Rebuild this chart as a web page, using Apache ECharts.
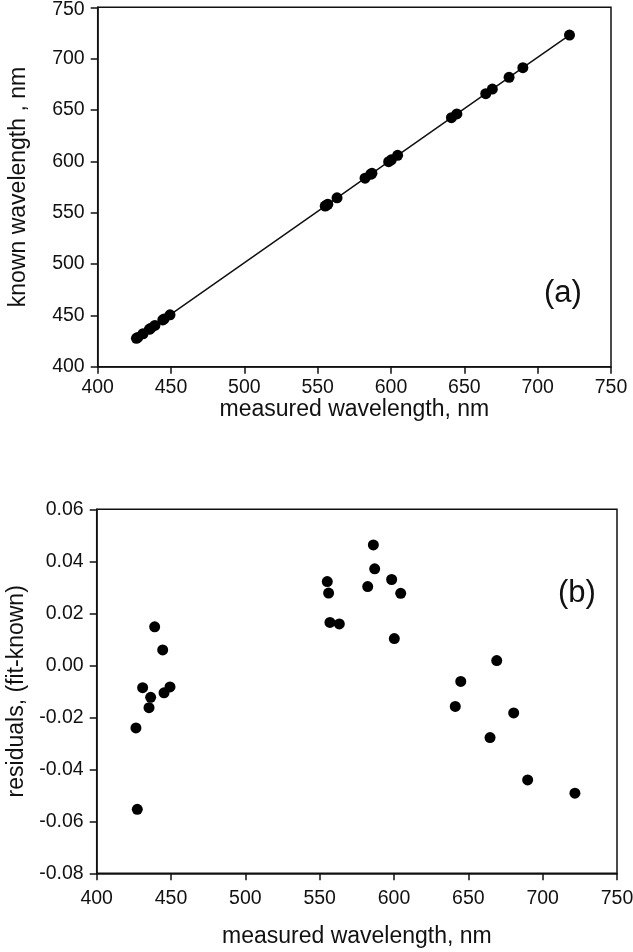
<!DOCTYPE html>
<html>
<head>
<meta charset="utf-8">
<script src="https://cdn.jsdelivr.net/npm/echarts@6/dist/echarts.min.js"></script>
<style>
html,body{margin:0;padding:0;background:#fff;}
#c{width:633px;height:952px;}
</style>
</head>
<body>
<div id="c"></div>
<script>
// measured wavelengths (nm)
var measured = [426.4, 427.3, 430.9, 435.2, 436.3, 439.0, 444.4, 445.3, 449.3,
  555.1, 556.0, 556.9, 563.2, 582.3, 586.1, 587.0, 598.4, 600.2, 604.5,
  641.2, 644.9, 664.6, 669.1, 680.5, 689.9, 721.7];
// known wavelengths (nm)
var known = [427.6, 428.5, 432.1, 436.4, 437.5, 440.2, 445.6, 446.5, 450.5,
  556.4, 557.3, 558.2, 564.5, 583.6, 587.4, 588.3, 599.7, 601.5, 605.8,
  642.5, 646.2, 665.9, 670.4, 681.8, 691.2, 723.0];
// residuals (fit - known)
var residuals = [-0.0241, -0.0554, -0.0086, -0.0163, -0.0123, 0.0148, 0.0059, -0.0106, -0.0083,
  0.0322, 0.0278, 0.0165, 0.0159, 0.0303, 0.0463, 0.0371, 0.0330, 0.0103, 0.0277,
  -0.0158, -0.0062, -0.0278, 0.0018, -0.0183, -0.0441, -0.0492];
var panelLabels = ['(a)', '(b)'];
var xTitle = 'measured wavelength, nm';
var yTitleTop = 'known wavelength , nm';
var yTitleBottom = 'residuals, (fit-known)';

var topPts = measured.map(function (m, i) { return [m, known[i]]; });
var fitPts = topPts.slice().sort(function (a, b) { return a[0] - b[0]; });
var resPts = measured.map(function (m, i) { return [m, residuals[i]]; });

var FONT = 'Liberation Sans, Arial, sans-serif';
var ink = '#111';

function xAx(gi, margin, gap) {
  return {
    type: 'value', gridIndex: gi, min: 400, max: 750, interval: 50,
    name: xTitle, nameLocation: 'middle', nameGap: gap,
    nameTextStyle: { fontFamily: FONT, fontSize: 23, color: ink },
    axisLine: { show: true, onZero: false, lineStyle: { color: ink, width: 1.5 } },
    axisTick: { show: true, inside: false, length: 7, lineStyle: { color: ink, width: 1.5 } },
    axisLabel: { fontFamily: FONT, fontSize: 19.5, color: ink, margin: margin },
    splitLine: { show: false }
  };
}

var option = {
  backgroundColor: '#fff',
  animation: false,
  grid: [
    { left: 97.7, right: 22, top: 7.3, height: 359.4, show: true, borderColor: ink, borderWidth: 1.5, containLabel: false, outerBoundsMode: 'none' },
    { left: 96.7, right: 16, top: 509.3, height: 364, show: true, borderColor: ink, borderWidth: 1.5, containLabel: false, outerBoundsMode: 'none' }
  ],
  xAxis: [xAx(0, 11, 31), xAx(1, 15, 52)],
  yAxis: [
    {
      type: 'value', gridIndex: 0, min: 400, max: 750, interval: 50,
      name: yTitleTop, nameLocation: 'middle', nameGap: 68, nameRotate: 90,
      nameTextStyle: { fontFamily: FONT, fontSize: 23, color: ink },
      axisLine: { show: true, onZero: false, lineStyle: { color: ink, width: 1.5 } },
      axisTick: { show: true, inside: false, length: 7, lineStyle: { color: ink, width: 1.5 } },
      axisLabel: { fontFamily: FONT, fontSize: 19.5, color: ink, margin: 13,
        formatter: function (v) { return v === 750 ? '{t|' + v + '}' : String(v); },
        rich: { t: { fontFamily: FONT, fontSize: 19.5, color: ink, padding: [5, 0, 0, 0] } } },
      splitLine: { show: false }
    },
    {
      type: 'value', gridIndex: 1, min: -0.08, max: 0.06, interval: 0.02,
      name: yTitleBottom, nameLocation: 'middle', nameGap: 69, nameRotate: 90,
      nameTextStyle: { fontFamily: FONT, fontSize: 23, color: ink },
      axisLine: { show: true, onZero: false, lineStyle: { color: ink, width: 1.5 } },
      axisTick: { show: true, inside: false, length: 7, lineStyle: { color: ink, width: 1.5 } },
      axisLabel: { fontFamily: FONT, fontSize: 19.5, color: ink, margin: 13,
        formatter: function (v) { return v.toFixed(2); } },
      splitLine: { show: false }
    }
  ],
  graphic: [
    { type: 'text', left: 544, top: 278, style: { text: panelLabels[0], font: '31px ' + FONT, fill: ink } },
    { type: 'text', left: 558, top: 578, style: { text: panelLabels[1], font: '31px ' + FONT, fill: ink } }
  ],
  series: [
    {
      type: 'line', xAxisIndex: 0, yAxisIndex: 0, data: fitPts, showSymbol: false,
      lineStyle: { color: ink, width: 1.5 }, z: 2
    },
    {
      type: 'scatter', xAxisIndex: 0, yAxisIndex: 0, data: topPts,
      symbol: 'circle', symbolSize: 11, itemStyle: { color: '#000', opacity: 1 }, z: 3
    },
    {
      type: 'scatter', xAxisIndex: 1, yAxisIndex: 1, data: resPts,
      symbol: 'circle', symbolSize: 11, itemStyle: { color: '#000', opacity: 1 }, z: 3
    }
  ]
};

var chart = echarts.init(document.getElementById('c'), null, { renderer: 'canvas' });
chart.setOption(option);
</script>
</body>
</html>
